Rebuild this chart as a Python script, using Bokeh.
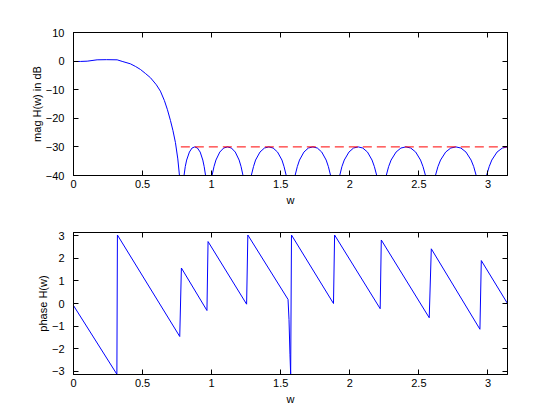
from bokeh.plotting import figure
from bokeh.layouts import column
from bokeh.models import LinearAxis, FixedTicker, Range1d, CustomJSTickFormatter
from bokeh.embed import file_html
from bokeh.resources import INLINE

PI = 3.14159

# ---- magnitude response (dB) ----
mag_w = [0, 0.05, 0.099, 0.171, 0.24, 0.316, 0.352, 0.412, 0.45, 0.485, 0.52, 0.557, 0.60, 0.629,
         0.658, 0.68, 0.702, 0.72, 0.738, 0.755, 0.767, 0.780,
         0.800, 0.809, 0.819, 0.839, 0.858, 0.878, 0.897, 0.917, 0.936, 0.946, 0.956, 0.975,
         1.003, 1.017, 1.031, 1.059, 1.087, 1.115, 1.143, 1.171, 1.199, 1.213, 1.227, 1.255,
         1.287, 1.303, 1.318, 1.350, 1.382, 1.414, 1.445, 1.477, 1.509, 1.524, 1.540, 1.572,
         1.604, 1.620, 1.636, 1.668, 1.700, 1.733, 1.765, 1.797, 1.829, 1.845, 1.861, 1.893,
         1.927, 1.943, 1.960, 1.994, 2.027, 2.061, 2.094, 2.128, 2.161, 2.178, 2.195, 2.228,
         2.264, 2.281, 2.299, 2.335, 2.370, 2.406, 2.441, 2.477, 2.512, 2.530, 2.548, 2.583,
         2.620, 2.638, 2.657, 2.694, 2.731, 2.768, 2.804, 2.841, 2.878, 2.897, 2.915, 2.952,
         2.990, 3.009, 3.028, 3.066, 3.104, 3.1416]
mag_db = [-0.14, -0.12, -0.03, 0.45, 0.5, 0.45, -0.1, -0.95, -1.9, -2.94, -4.3, -5.8, -8.3, -10.5,
          -13.8, -17.0, -20.8, -24.3, -28.5, -34.2, -40.0, -60,
          -40, -36.9, -34.6, -31.8, -30.4, -30.0, -30.4, -31.8, -34.6, -36.9, -40, -60,
          -40, -36.9, -34.6, -31.8, -30.4, -30.0, -30.4, -31.8, -34.6, -36.9, -40, -60,
          -40, -36.9, -34.6, -31.8, -30.4, -30.0, -30.4, -31.8, -34.6, -36.9, -40, -60,
          -40, -36.9, -34.6, -31.8, -30.4, -30.0, -30.4, -31.8, -34.6, -36.9, -40, -60,
          -40, -36.9, -34.6, -31.8, -30.4, -30.0, -30.4, -31.8, -34.6, -36.9, -40, -60,
          -40, -36.9, -34.6, -31.8, -30.4, -30.0, -30.4, -31.8, -34.6, -36.9, -40, -60,
          -40, -36.9, -34.6, -31.8, -30.4, -30.0, -30.4, -31.8, -34.6, -36.9, -40, -60,
          -40, -36.9, -34.6, -31.8, -30.4, -30.0]

# stopband specification line
spec_w = [0.777, 3.1416]
spec_db = [-30, -30]

# ---- phase response (rad) ----
ph_w = [0, 0.314, 0.318, 0.769, 0.781, 0.966, 0.974, 1.253, 1.262, 1.553, 1.560, 1.567, 1.572,
        1.578, 1.882, 1.890, 2.220, 2.228, 2.575, 2.590, 2.942, 2.952, 3.1416]
ph_val = [-0.09, -3.13, 3.03, -1.46, 1.57, -0.31, 2.74, -0.03, 3.03, 0.18, -0.70, -2.27, -3.14,
          3.03, 0.0, 3.03, -0.23, 2.81, -0.63, 2.42, -1.14, 1.90, 0.0]

x_ticks = [0, 0.5, 1, 1.5, 2, 2.5, 3]
mag_ticks = [-40, -30, -20, -10, 0, 10]
ph_ticks = [-3, -2, -1, 0, 1, 2, 3]

FONT = "Liberation Sans"
FS = "11px"


def make_fig(y0, y1, yticks, ylabel, top_b, fh, bot_b):
    p = figure(frame_width=434, frame_height=fh, x_range=Range1d(0, PI), y_range=Range1d(y0, y1),
               output_backend="svg", toolbar_location=None,
               min_border_left=73, min_border_right=33, min_border_top=top_b,
               min_border_bottom=bot_b)
    p.grid.visible = False
    p.outline_line_color = "black"
    p.outline_line_alpha = 1.0
    p.background_fill_color = "white"
    p.border_fill_color = "white"
    p.xaxis.ticker = FixedTicker(ticks=x_ticks)
    p.yaxis.ticker = FixedTicker(ticks=yticks)
    p.xaxis.axis_label = "w"
    p.yaxis.axis_label = ylabel
    for ax in (p.xaxis[0], p.yaxis[0]):
        ax.major_tick_in = 5
        ax.major_tick_out = 0
        ax.minor_tick_line_color = None
        ax.major_label_text_font = FONT
        ax.major_label_text_font_size = FS
        ax.major_label_text_color = "black"
        ax.axis_label_text_font = FONT
        ax.axis_label_text_font_size = FS
        ax.axis_label_text_font_style = "normal"
        ax.axis_label_text_color = "black"
        ax.axis_line_color = "black"
        ax.major_tick_line_color = "black"
    p.xaxis.major_label_standoff = 4
    p.xaxis.axis_label_standoff = 3
    p.yaxis.major_label_standoff = 9
    p.yaxis.axis_label_standoff = 0
    blank = CustomJSTickFormatter(code="return ''")
    top = LinearAxis(ticker=FixedTicker(ticks=x_ticks), formatter=blank,
                     major_tick_in=5, major_tick_out=0, minor_tick_line_color=None,
                     major_label_standoff=0)
    right = LinearAxis(ticker=FixedTicker(ticks=yticks), formatter=blank,
                       major_tick_in=5, major_tick_out=0, minor_tick_line_color=None,
                       major_label_standoff=0)
    p.add_layout(top, "above")
    p.add_layout(right, "right")
    return p


p1 = make_fig(-40, 10, mag_ticks, "mag H(w) in dB", 32, 143, 33)
p1.line(mag_w, mag_db, line_color="#0000ff", line_width=1)
p1.line(spec_w, spec_db, line_color="#ff0000", line_width=1, line_dash="9 5")

p2 = make_fig(-PI, PI, ph_ticks, "phase H(w)", 24, 142, 34)
p2.line(ph_w, ph_val, line_color="#0000ff", line_width=1)

layout = column(p1, p2, spacing=0)
open("out.html", "w").write(file_html(layout, INLINE))
